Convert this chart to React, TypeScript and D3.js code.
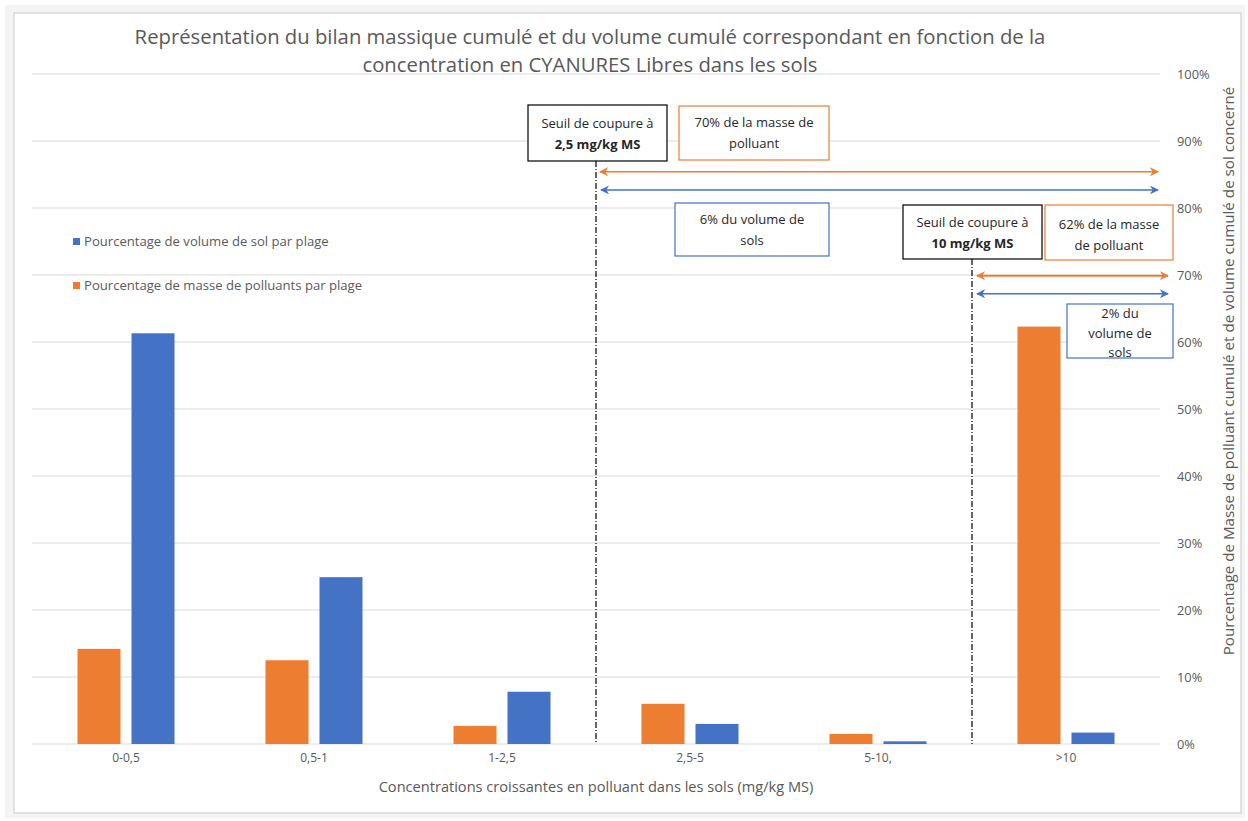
import React from "react";
import * as d3 from "d3";

// Concentration ranges (mg/kg MS)
const categories = ["0-0,5", "0,5-1", "1-2,5", "2,5-5", "5-10,", ">10"];
// Percentage of pollutant mass per range
const masseValues = [14.2, 12.5, 2.7, 6.0, 1.5, 62.3];
// Percentage of soil volume per range
const volumeValues = [61.3, 24.9, 7.8, 3.0, 0.4, 1.7];
const yTicks = [0, 10, 20, 30, 40, 50, 60, 70, 80, 90, 100];

const ORANGE = "#ED7D31";
const BLUE = "#4472C4";
const GRID = "#d9d9d9";
const TXT = "#595959";
const FONT = "'Open Sans', Lato, sans-serif";

const W = 1248;
const H = 821;

export default function App() {
  const x = d3.scaleBand<string>().domain(categories).range([32, 1160]).padding(0);
  const y = d3.scaleLinear().domain([0, 100]).range([744, 74]);
  const barW = 43;
  const gap = 11;
  const fmt = (v: number) => `${v}%`;

  const cut1 = x("2,5-5")!;
  const cut2 = x(">10")!;

  const arrows = [
    { color: ORANGE, x1: cut1 + 4, x2: 1158, yv: 85.4, w: 1.5 },
    { color: BLUE, x1: cut1 + 5, x2: 1158, yv: 82.7, w: 1.5 },
    { color: ORANGE, x1: cut2 + 5, x2: 1168, yv: 69.9, w: 2 },
    { color: BLUE, x1: cut2 + 5, x2: 1168, yv: 67.2, w: 1.5 },
  ];

  type Box = {
    x: number; y: number; w: number; h: number; stroke: string;
    lines: { t: string; bold?: boolean }[]; lh: number; first: number;
  };
  const boxes: Box[] = [
    { x: 528, y: 105, w: 139, h: 56, stroke: "#000", lh: 21, first: 128,
      lines: [{ t: "Seuil de coupure à" }, { t: "2,5 mg/kg MS", bold: true }] },
    { x: 679, y: 106, w: 150, h: 54, stroke: ORANGE, lh: 21, first: 127,
      lines: [{ t: "70% de la masse de" }, { t: "polluant" }] },
    { x: 675, y: 203, w: 154, h: 53, stroke: BLUE, lh: 21, first: 224,
      lines: [{ t: "6% du volume de" }, { t: "sols" }] },
    { x: 903, y: 205, w: 139, h: 54, stroke: "#000", lh: 21, first: 227,
      lines: [{ t: "Seuil de coupure à" }, { t: "10 mg/kg MS", bold: true }] },
    { x: 1045, y: 205, w: 128, h: 55, stroke: ORANGE, lh: 21, first: 229,
      lines: [{ t: "62% de la masse" }, { t: "de polluant" }] },
    { x: 1067, y: 304, w: 106, h: 54, stroke: BLUE, lh: 19.5, first: 318,
      lines: [{ t: "2% du" }, { t: "volume de" }, { t: "sols" }] },
  ];

  return (
    <svg
      width={W}
      height={H}
      style={{ position: "absolute", left: 0, top: 0, display: "block" }}
      fontFamily={FONT}
    >
      <defs>
        {[["o", ORANGE], ["b", BLUE]].map(([id, c]) => (
          <marker
            key={id}
            id={`arr-${id}`}
            viewBox="0 0 10 10"
            refX="9"
            refY="5"
            markerWidth="9"
            markerHeight="9"
            markerUnits="userSpaceOnUse"
            orient="auto-start-reverse"
          >
            <path d="M0,0 L10,5 L0,10 L3,5 Z" fill={c} />
          </marker>
        ))}
      </defs>

      <rect x={0} y={0} width={W} height={H} fill="#fff" />
      <rect x={5} y={5} width={1240} height={813} fill="#f4f4f4" />
      <rect x={14} y={13} width={1227} height={800} fill="#fff" stroke={GRID} strokeWidth={1.5} />

      {/* Title */}
      <text x={590} y={44} textAnchor="middle" fontSize={20.3} fill={TXT}>
        Représentation du bilan massique cumulé et du volume cumulé correspondant en fonction de la
      </text>
      <text x={590} y={72} textAnchor="middle" fontSize={20.3} fill={TXT}>
        concentration en CYANURES Libres dans les sols
      </text>

      {/* Gridlines and right axis */}
      {yTicks.map((t) => (
        <g key={t}>
          <line x1={32} x2={1160} y1={y(t)} y2={y(t)} stroke={GRID} strokeWidth={1} />
          <text x={1177} y={y(t) + 4.5} fontSize={12.8} fill={TXT}>
            {fmt(t)}
          </text>
        </g>
      ))}

      {/* Bars */}
      {categories.map((c, i) => {
        const cx = x(c)! + x.bandwidth() / 2;
        return (
          <g key={c}>
            <rect
              x={cx - gap / 2 - barW}
              y={y(masseValues[i])}
              width={barW}
              height={y(0) - y(masseValues[i])}
              fill={ORANGE}
            />
            <rect
              x={cx + gap / 2}
              y={y(volumeValues[i])}
              width={barW}
              height={y(0) - y(volumeValues[i])}
              fill={BLUE}
            />
            <text x={cx} y={762} textAnchor="middle" fontSize={12} fill={TXT}>
              {c}
            </text>
          </g>
        );
      })}

      {/* Threshold lines */}
      <line x1={cut1} x2={cut1} y1={161} y2={y(0)} stroke="#000" strokeWidth={1.2} strokeDasharray="6,2,1,2" />
      <line x1={cut2} x2={cut2} y1={259} y2={y(0)} stroke="#000" strokeWidth={1.2} strokeDasharray="6,2,1,2" />

      {/* Range arrows */}
      {arrows.map((a, i) => (
        <line
          key={i}
          x1={a.x1}
          x2={a.x2}
          y1={y(a.yv)}
          y2={y(a.yv)}
          stroke={a.color}
          strokeWidth={a.w}
          markerStart={`url(#arr-${a.color === ORANGE ? "o" : "b"})`}
          markerEnd={`url(#arr-${a.color === ORANGE ? "o" : "b"})`}
        />
      ))}

      {/* Annotation boxes */}
      {boxes.map((b, i) => (
        <g key={i}>
          <rect x={b.x} y={b.y} width={b.w} height={b.h} fill="#fff" stroke={b.stroke} strokeWidth={1.2} />
          {b.lines.map((l, j) => (
            <text
              key={j}
              x={b.x + b.w / 2}
              y={b.first + j * b.lh}
              textAnchor="middle"
              fontSize={13}
              fontWeight={l.bold ? 700 : 400}
              fill="#262626"
            >
              {l.t}
            </text>
          ))}
        </g>
      ))}

      {/* Legend */}
      <rect x={73} y={238} width={7} height={7} fill={BLUE} />
      <text x={84} y={246} fontSize={13.1} fill={TXT}>
        Pourcentage de volume de sol par plage
      </text>
      <rect x={73} y={282} width={7} height={7} fill={ORANGE} />
      <text x={84} y={290} fontSize={13.1} fill={TXT}>
        Pourcentage de masse de polluants par plage
      </text>

      {/* Axis titles */}
      <text x={596} y={792} textAnchor="middle" fontSize={14.6} fill={TXT}>
        Concentrations croissantes en polluant dans les sols (mg/kg MS)
      </text>
      <text
        transform={`translate(1234,371) rotate(-90)`}
        textAnchor="middle"
        fontSize={15.2}
        fill={TXT}
      >
        Pourcentage de Masse de polluant cumulé et de volume cumulé de sol concerné
      </text>
    </svg>
  );
}
